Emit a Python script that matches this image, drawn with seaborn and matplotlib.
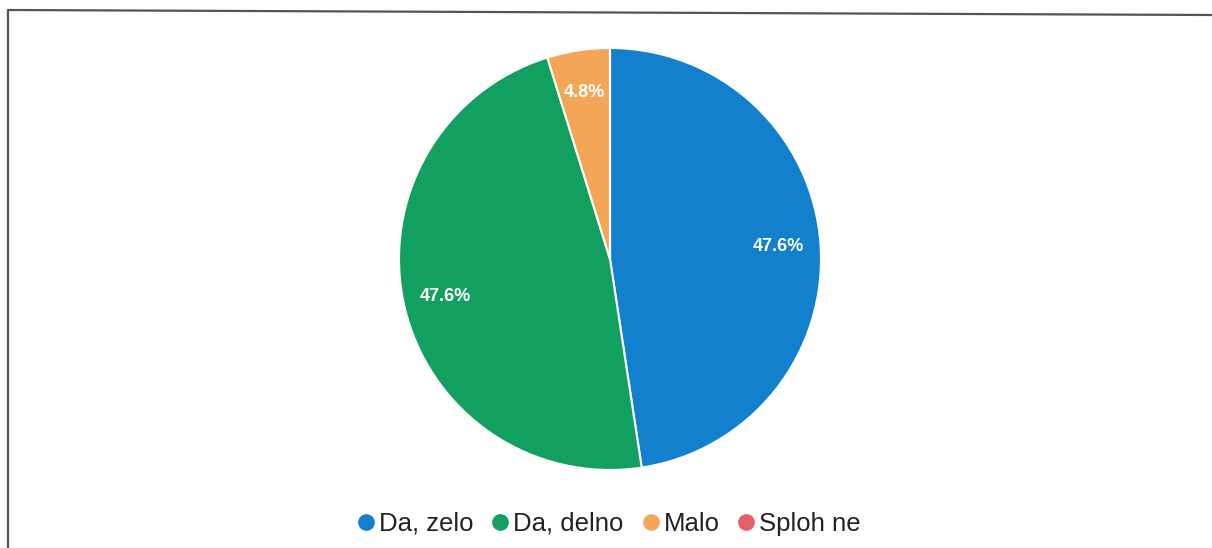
import matplotlib
matplotlib.use("Agg")
import matplotlib.pyplot as plt
from matplotlib.lines import Line2D
import seaborn as sns

# Survey answers and their shares (percent)
categories = ["Da, zelo", "Da, delno", "Malo", "Sploh ne"]
shares = [47.6, 47.6, 4.8, 0.0]
colors = ["#1280cc", "#12a060", "#f4a658", "#e45f69"]

sns.set_theme(style="white")
plt.rcParams["font.family"] = ["Liberation Sans", "DejaVu Sans"]

W, H = 1212, 548
fig = plt.figure(figsize=(W / 100, H / 100), dpi=100)
fig.patch.set_facecolor("white")

cx, cy, r = 610, 289, 211
ax = fig.add_axes([(cx - r) / W, (cy - r) / H, 2 * r / W, 2 * r / H])

wedges, texts, autotexts = ax.pie(
    shares,
    colors=colors,
    startangle=90,
    counterclock=False,
    radius=1,
    autopct=lambda p: f"{p:.1f}%" if p > 0 else "",
    pctdistance=0.8,
    wedgeprops=dict(edgecolor="white", linewidth=1.5),
    textprops=dict(color="white", fontsize=13, fontweight="bold"),
)
ax.set_xlim(-1, 1)
ax.set_ylim(-1, 1)
ax.set_aspect("equal")
ax.axis("off")

# Legend along the bottom
handles = [
    Line2D([], [], marker="o", linestyle="none", markersize=11,
           markerfacecolor=c, markeredgecolor=c)
    for c in colors
]
fig.legend(handles, categories, loc="center", bbox_to_anchor=(607 / W, 1 - 524 / H),
           ncol=4, frameon=False, fontsize=18.5, handletextpad=0.0,
           columnspacing=0.55, labelcolor="#222222", handlelength=1.0)

# Frame lines at the top and left
fig.add_artist(Line2D([8 / W, 1.0], [1 - 10 / H, 1 - 15 / H], transform=fig.transFigure,
                      color="#555555", linewidth=1.6))
fig.add_artist(Line2D([8 / W, 8 / W], [1 - 10 / H, 0.0], transform=fig.transFigure,
                      color="#555555", linewidth=1.6))

fig.savefig("out.png", dpi=100, facecolor="white")
